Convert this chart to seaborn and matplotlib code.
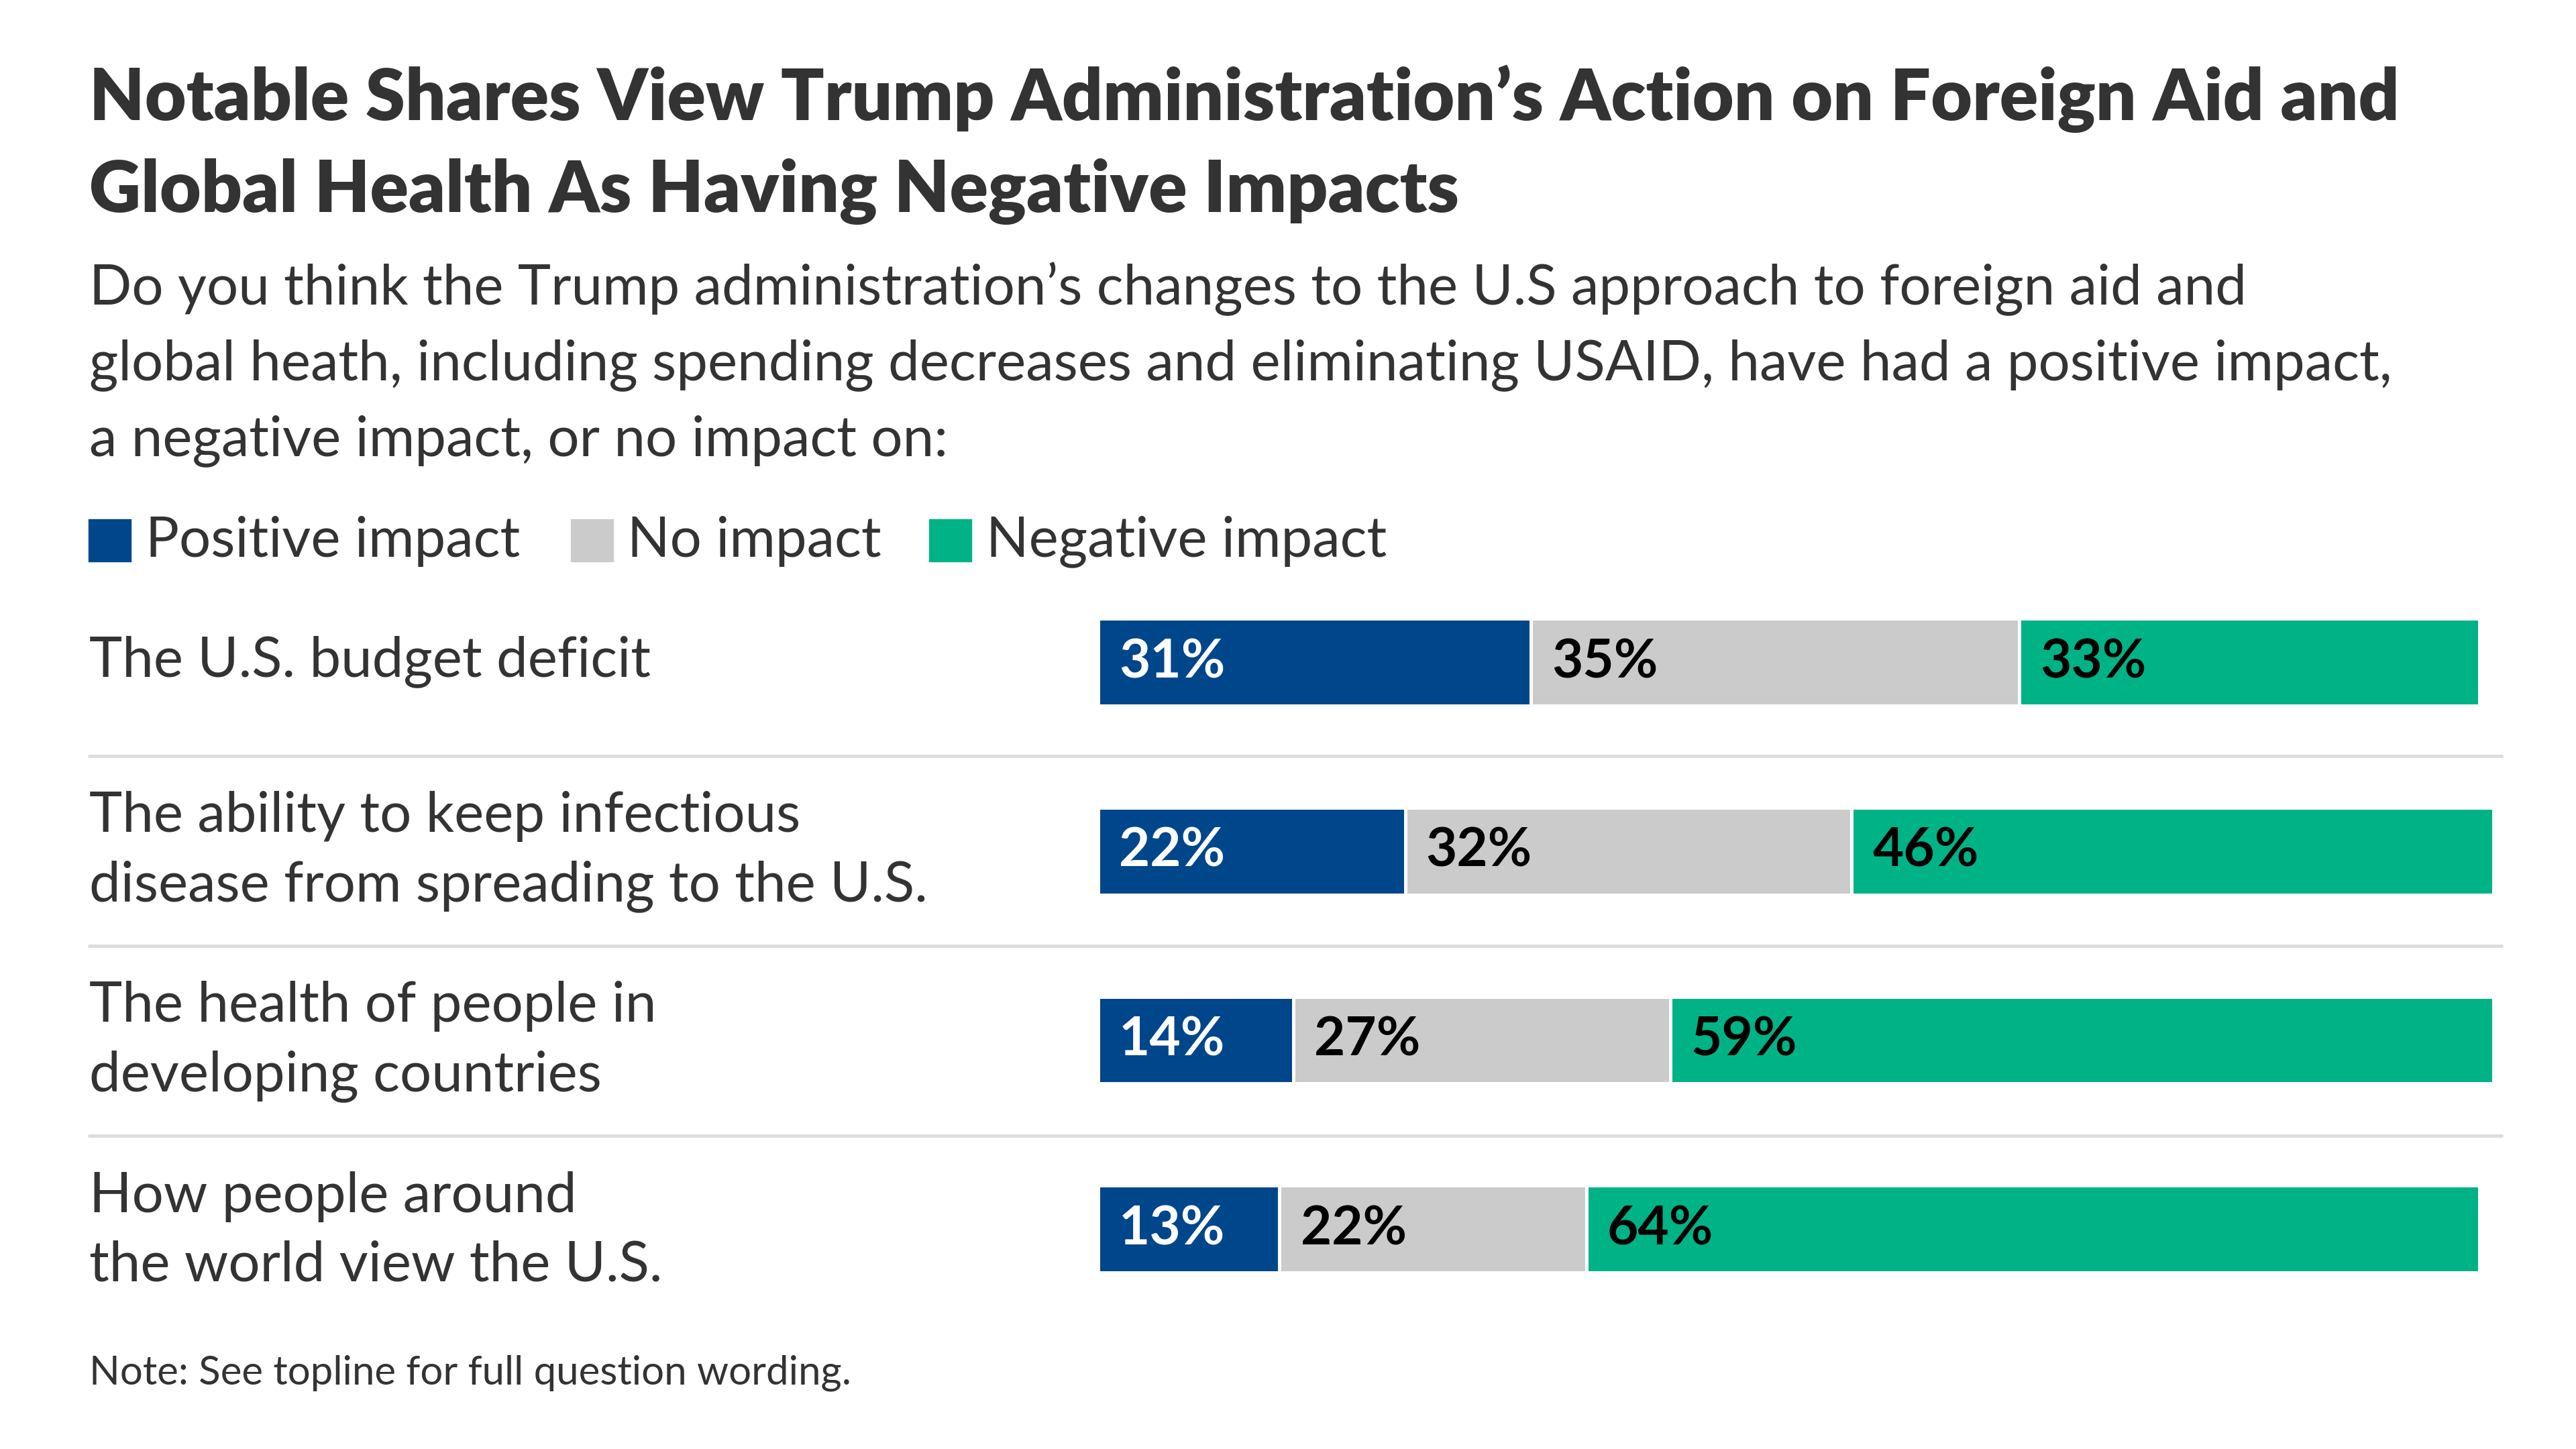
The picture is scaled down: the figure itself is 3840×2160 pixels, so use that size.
import matplotlib
matplotlib.use("Agg")
import matplotlib.pyplot as plt
import seaborn as sns
import pandas as pd
import numpy as np

categories = ["The U.S. budget deficit",
              "The ability to keep infectious\ndisease from spreading to the U.S.",
              "The health of people in\ndeveloping countries",
              "How people around\nthe world view the U.S."]
positive = [31, 22, 14, 13]
no_impact = [35, 32, 27, 22]
negative = [33, 46, 59, 64]
series = ["Positive impact", "No impact", "Negative impact"]
colors = ["#00468b", "#cbcbcb", "#00b386"]

sns.set_theme(style="white")
plt.rcParams['font.family'] = ['Lato', 'DejaVu Sans']

W, H = 1560, 878
fig = plt.figure(figsize=(16, 9), dpi=240)
fig.patch.set_facecolor("white")
def fx(x): return x / W
def fy(y): return 1 - y / H

ax = fig.add_axes([fx(665), fy(802), fx(1510) - fx(665), (802 - 344) / H])
df = pd.DataFrame({"cat": categories, "pos": positive, "no": no_impact, "neg": negative})
df["c2"] = df["pos"] + df["no"]
df["c3"] = df["c2"] + df["neg"]
for col, c in [("c3", colors[2]), ("c2", colors[1]), ("pos", colors[0])]:
    sns.barplot(data=df, x=col, y="cat", color=c, orient="h", width=0.46,
                edgecolor="white", linewidth=1.5, saturation=1, ax=ax)
ax.set_xlim(0, 100)
ax.set_ylim(3.5, -0.5)
ax.axis("off")
for i in range(len(categories)):
    starts = [0, positive[i], positive[i] + no_impact[i]]
    vals = [positive[i], no_impact[i], negative[i]]
    for j in range(3):
        ax.text(starts[j] + 1.5, i, f"{vals[j]}%", va="center", ha="left",
                fontsize=24, fontweight="bold",
                color="white" if j == 0 else "black")

for i, cat in enumerate(categories):
    fig.text(fx(54), fy(401 + 115 * i), cat, fontsize=25, va="center", ha="left",
             color="#333333", linespacing=1.45)
for y in [458, 573, 688]:
    fig.add_artist(plt.Line2D([fx(54), fx(1515)], [fy(y), fy(y)], color="#dddddd", lw=1.5))

fig.text(fx(54), fy(60), "Notable Shares View Trump Administration’s Action on Foreign Aid and",
         fontsize=32, fontweight="heavy", va="center", color="#333333")
fig.text(fx(54), fy(116), "Global Health As Having Negative Impacts",
         fontsize=32, fontweight="heavy", va="center", color="#333333")
sub = ["Do you think the Trump administration’s changes to the U.S approach to foreign aid and",
       "global heath, including spending decreases and eliminating USAID, have had a positive impact,",
       "a negative impact, or no impact on:"]
for k, s in enumerate(sub):
    fig.text(fx(54), fy(175 + 46 * k), s, fontsize=25, va="center", color="#333333")

lx = [54, 346, 563]
for x, s, c in zip(lx, series, colors):
    fig.add_artist(plt.Rectangle((fx(x), fy(340)), fx(25), 25 / H, color=c, transform=fig.transFigure))
    fig.text(fx(x + 34), fy(328), s, fontsize=25, va="center", color="#333333")

fig.text(fx(54), fy(832), "Note: See topline for full question wording.", fontsize=18,
         va="center", color="#333333")

fig.savefig("out.png", dpi=240, facecolor="white")
